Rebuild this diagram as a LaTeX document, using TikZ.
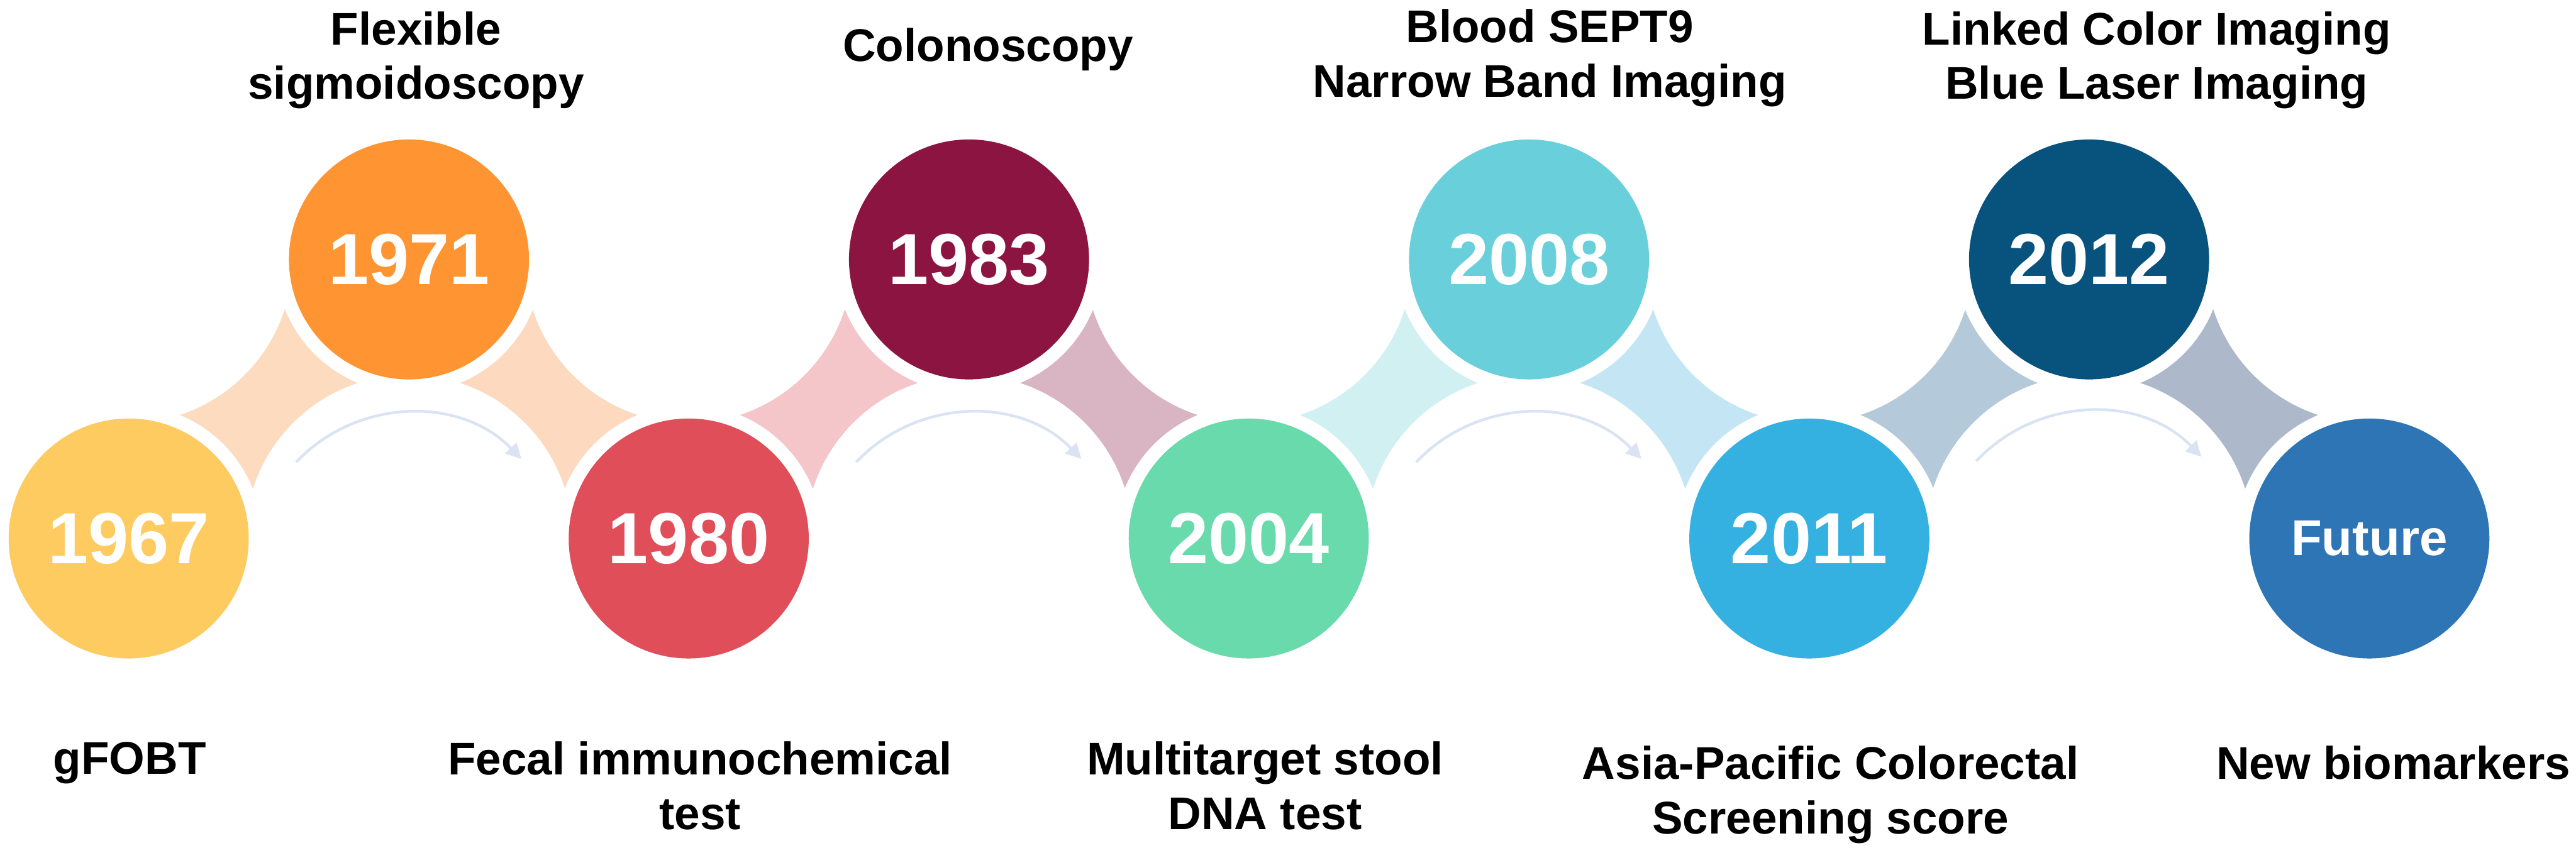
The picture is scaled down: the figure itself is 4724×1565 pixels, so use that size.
\documentclass[tikz,border=0pt]{standalone}
\usepackage{fontspec}
\setmainfont{Liberation Sans}
\usetikzlibrary{arrows.meta}
\definecolor{c1967}{HTML}{FDCB5F}
\definecolor{c1971}{HTML}{FE9532}
\definecolor{c1980}{HTML}{E04E5A}
\definecolor{c1983}{HTML}{8C1440}
\definecolor{c2004}{HTML}{69DAAC}
\definecolor{c2008}{HTML}{69D0DB}
\definecolor{c2011}{HTML}{35B1E1}
\definecolor{c2012}{HTML}{08527E}
\definecolor{cfut}{HTML}{2E75B6}
\definecolor{s1}{HTML}{FCDBBF}
\definecolor{s2}{HTML}{FCD9BF}
\definecolor{s3}{HTML}{F4C5C9}
\definecolor{s4}{HTML}{D9B4C2}
\definecolor{s5}{HTML}{D1F0F2}
\definecolor{s6}{HTML}{C4E6F4}
\definecolor{s7}{HTML}{B4CADA}
\definecolor{s8}{HTML}{ADB9CB}
\definecolor{arrowc}{HTML}{DAE3F3}
\begin{document}
\begin{tikzpicture}[x=0.01cm,y=-0.01cm,
  yearnode/.style={circle, minimum size=4.4cm, inner sep=0pt, text=white,
    font=\fontsize{37.8pt}{40pt}\selectfont\bfseries},
  lbl/.style={anchor=base, align=center, inner sep=0pt, text=black,
    font=\fontsize{23.9pt}{28.45pt}\selectfont\bfseries},
  flow/.style={draw=arrowc, line width=0.05cm, -{Triangle[length=0.28cm,width=0.28cm]}}]
\useasboundingbox (0,0) rectangle (4724,1565);
% star connectors (square minus the four corner discs)
\fill[s1] (236,476) rectangle (750,988);
\fill[s2] (750,476) rectangle (1263,988);
\fill[s3] (1263,476) rectangle (1777,988);
\fill[s4] (1777,476) rectangle (2290,988);
\fill[s5] (2290,476) rectangle (2804,988);
\fill[s6] (2804,476) rectangle (3318,988);
\fill[s7] (3318,476) rectangle (3831,988);
\fill[s8] (3831,476) rectangle (4345,988);
\foreach \x in {236,1263,2290,3318,4345} \fill[white] (\x,476) circle (3cm);
\foreach \x in {750,1777,2804,3831} \fill[white] (\x,988) circle (3cm);
\foreach \x in {236,1263,2290,3318,4345} \fill[white] (\x,988) circle (2.45cm);
\foreach \x in {750,1777,2804,3831} \fill[white] (\x,476) circle (2.45cm);
% year circles
\node[yearnode, fill=c1967] (n1967) at (236,988) {1967};
\node[yearnode, fill=c1971] (n1971) at (750,476) {1971};
\node[yearnode, fill=c1980] (n1980) at (1263,988) {1980};
\node[yearnode, fill=c1983] (n1983) at (1777,476) {1983};
\node[yearnode, fill=c2004] (n2004) at (2290,988) {2004};
\node[yearnode, fill=c2008] (n2008) at (2804,476) {2008};
\node[yearnode, fill=c2011] (n2011) at (3318,988) {2011};
\node[yearnode, fill=c2012] (n2012) at (3831,476) {2012};
\node[yearnode, fill=cfut, font=\fontsize{26.2pt}{28pt}\selectfont\bfseries] (nfut) at (4345,988) {Future};
% small curved arrows
\coordinate (a1s) at (543,848);  \coordinate (a1e) at (956,842);
\coordinate (a2s) at (1570,848); \coordinate (a2e) at (1983,842);
\coordinate (a3s) at (2597,848); \coordinate (a3e) at (3010,842);
\coordinate (a4s) at (3624,846); \coordinate (a4e) at (4037,838);
\draw[flow] (a1s) .. controls +(111,-118) and +(-112,-116) .. (a1e);
\draw[flow] (a2s) .. controls +(111,-118) and +(-112,-116) .. (a2e);
\draw[flow] (a3s) .. controls +(111,-118) and +(-112,-116) .. (a3e);
\draw[flow] (a4s) .. controls +(111,-118) and +(-112,-116) .. (a4e);
% labels (base anchor = baseline of the last line)
\node[lbl] (t1967) at (238,1420) {gFOBT};
\node[lbl] (t1971) at (763,182) {Flexible\\sigmoidoscopy};
\node[lbl] (t1980) at (1284,1522) {Fecal immunochemical\\test};
\node[lbl] (t1983) at (1812,112) {Colonoscopy};
\node[lbl] (t2004) at (2320,1522) {Multitarget stool\\DNA test};
\node[lbl] (t2008) at (2842,178) {Blood SEPT9\\Narrow Band Imaging};
\node[lbl] (t2011) at (3357,1530) {Asia-Pacific Colorectal\\Screening score};
\node[lbl] (t2012) at (3955,182) {Linked Color Imaging\\Blue Laser Imaging};
\node[lbl] (tfut) at (4389,1429) {New biomarkers};
\end{tikzpicture}
\end{document}
